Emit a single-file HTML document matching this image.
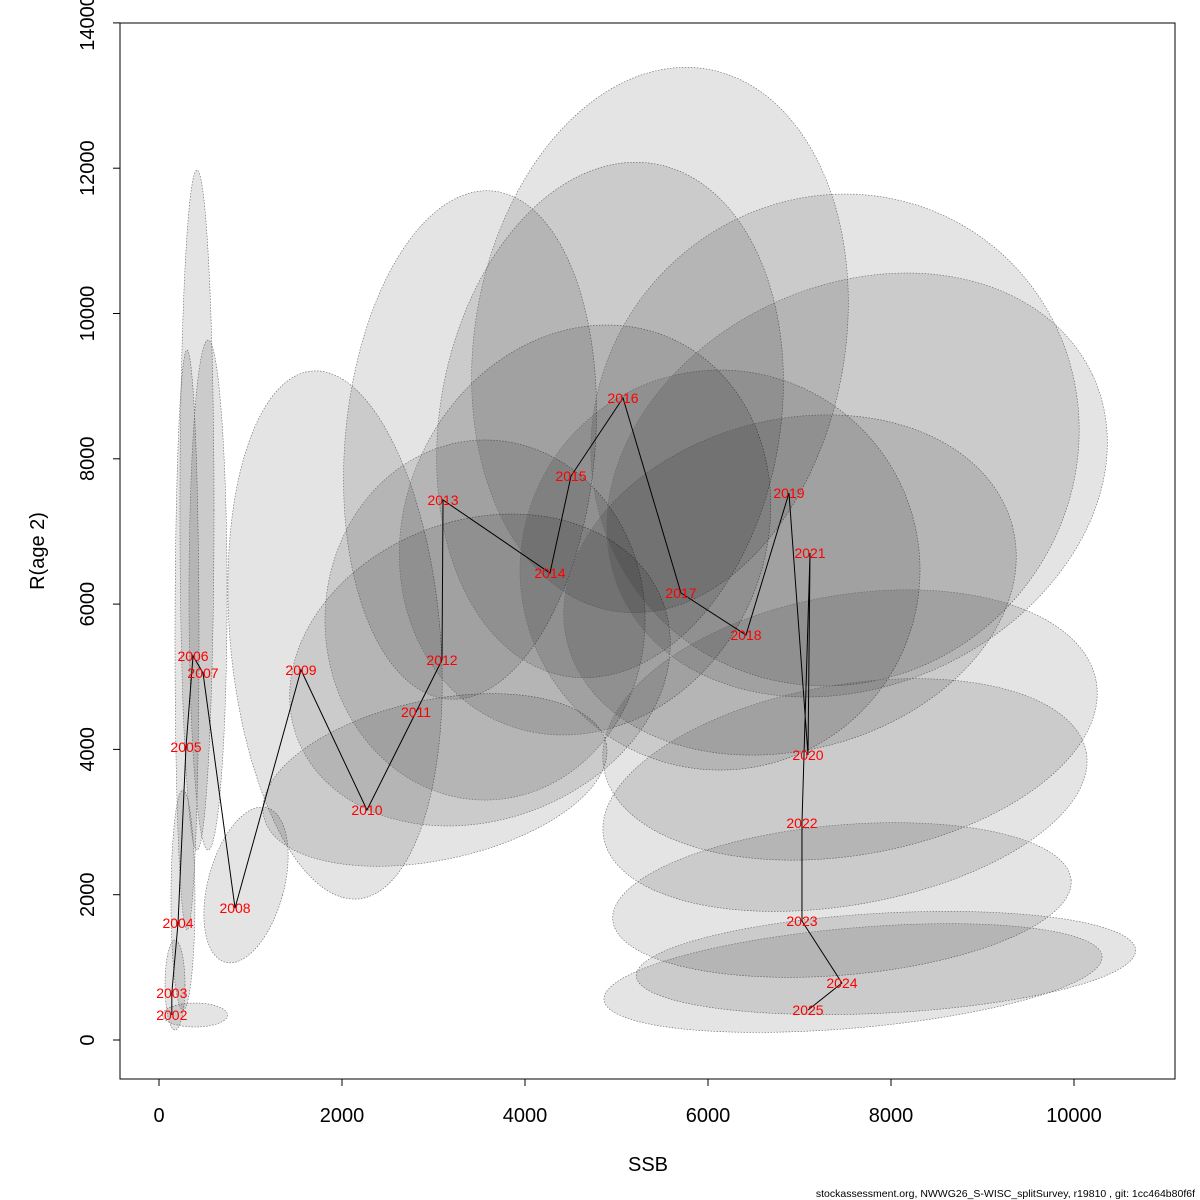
<!DOCTYPE html>
<html><head><meta charset="utf-8"><style>
html,body{margin:0;padding:0;background:#fff;}
svg{display:block;font-family:"Liberation Sans",sans-serif;}
</style></head><body>
<svg id="chart" width="1200" height="1200" viewBox="0 0 1200 1200">
<rect x="120" y="23" width="1055" height="1056" fill="none" stroke="#000" stroke-width="1"/>
<g id="ells"></g>
<g id="line"></g>
<g id="labs"></g>
<g id="xax"></g>
<g id="yax"></g>
<text x="648" y="1171" font-size="20" text-anchor="middle">SSB</text>
<text x="44" y="551" font-size="20" text-anchor="middle" transform="rotate(-90 44 551)">R(age 2)</text>
<text x="1195" y="1197" font-size="10.5" text-anchor="end">stockassessment.org, NWWG26_S-WISC_splitSurvey, r19810 , git: 1cc464b80f6f</text>
</svg>
<script>
const years=[2002,2003,2004,2005,2006,2007,2008,2009,2010,2011,2012,2013,2014,2015,2016,2017,2018,2019,2020,2021,2022,2023,2024,2025];
const ssb=[140,140,208,295,372,481,831,1552,2273,2809,3093,3104,4273,4503,5071,5705,6415,6885,7093,7115,7027,7027,7464,7093];
const rec=[344,647,1610,4033,5286,5052,1817,5093,3166,4515,5231,7433,6428,7763,8837,6153,5575,7529,3923,6703,2987,1638,785,413];
const ellCx=[394,175,262,306,415,536,951,1924,3016,3508,3399,3563,4656,4929,5475,6131,6896,7388,7628,7552,7497,7464,7945,7585];
const ellCy=[344,757,1927,5506,7295,6125,2134,5575,3579,5093,8190,5781,7020,8534,9635,6469,6263,8259,7639,4336,3372,1927,1060,853];
const ellRx=[355,109,131,131,186,208,415,1148,1913,2131,1366,1749,1967,1858,2022,2186,2514,2623,2842,2732,2678,2514,2732,2732];
const ellRy=[165,619,1514,3992,4680,3510,1101,3647,1101,2065,3510,2478,2891,3579,3785,2753,2271,3441,2753,1789,1514,1032,688,688];
const ellAng=[0,0,0,0,0,0,15,-5,-12,-20,5,0,25,10,10,30,-15,40,-25,-10,-10,-5,-3,-5];
const xTicks=[0,2000,4000,6000,8000,10000];
const yTicks=[0,2000,4000,6000,8000,10000,12000,14000];
const X0=159,SX=0.0915,Y0=1040,SY=0.07265;
const xs=v=>X0+v*SX, ys=v=>Y0-v*SY;
const NS="http://www.w3.org/2000/svg";
function mk(t,p,a){const e=document.createElementNS(NS,t);for(const k in a)e.setAttribute(k,a[k]);p.appendChild(e);return e;}
const E=document.getElementById('ells');
for(let i=0;i<years.length;i++){
 const cx=xs(ellCx[i]),cy=ys(ellCy[i]);
 const e=mk('ellipse',E,{cx:cx,cy:cy,rx:ellRx[i]*SX,ry:ellRy[i]*SY,transform:`rotate(${ellAng[i]} ${cx} ${cy})`,fill:'rgba(0,0,0,0.105)',stroke:'#666','stroke-width':0.6,'stroke-dasharray':'1.5,1.5'});
 
 
}
const L=document.getElementById('line');
const pl=mk('polyline',L,{points:ssb.map((v,i)=>xs(v)+','+ys(rec[i])).join(' '),fill:'none',stroke:'#000','stroke-width':1});


const T=document.getElementById('labs');
for(let i=0;i<years.length;i++){
 const t=mk('text',T,{x:xs(ssb[i]),y:ys(rec[i])+5,'font-size':14,'text-anchor':'middle',fill:'#f00'});
 t.textContent=years[i];
 
 
}
const XA=document.getElementById('xax');
mk('line',XA,{x1:xs(xTicks[0]),x2:xs(xTicks[xTicks.length-1]),y1:1079,y2:1079,stroke:'#000'});
xTicks.forEach(v=>{
 mk('line',XA,{x1:xs(v),x2:xs(v),y1:1079,y2:1086,stroke:'#000'});
 const t=mk('text',XA,{x:xs(v),y:1122,'font-size':20,'text-anchor':'middle'});
 t.textContent=v;
 
 
});
const YA=document.getElementById('yax');
mk('line',YA,{x1:120,x2:120,y1:ys(yTicks[0]),y2:ys(yTicks[yTicks.length-1]),stroke:'#000'});
yTicks.forEach(v=>{
 mk('line',YA,{x1:113,x2:120,y1:ys(v),y2:ys(v),stroke:'#000'});
 const t=mk('text',YA,{x:94,y:ys(v),'font-size':20,'text-anchor':'middle',transform:`rotate(-90 94 ${ys(v)})`});
 t.textContent=v;
 
 
});
</script>
</body></html>
